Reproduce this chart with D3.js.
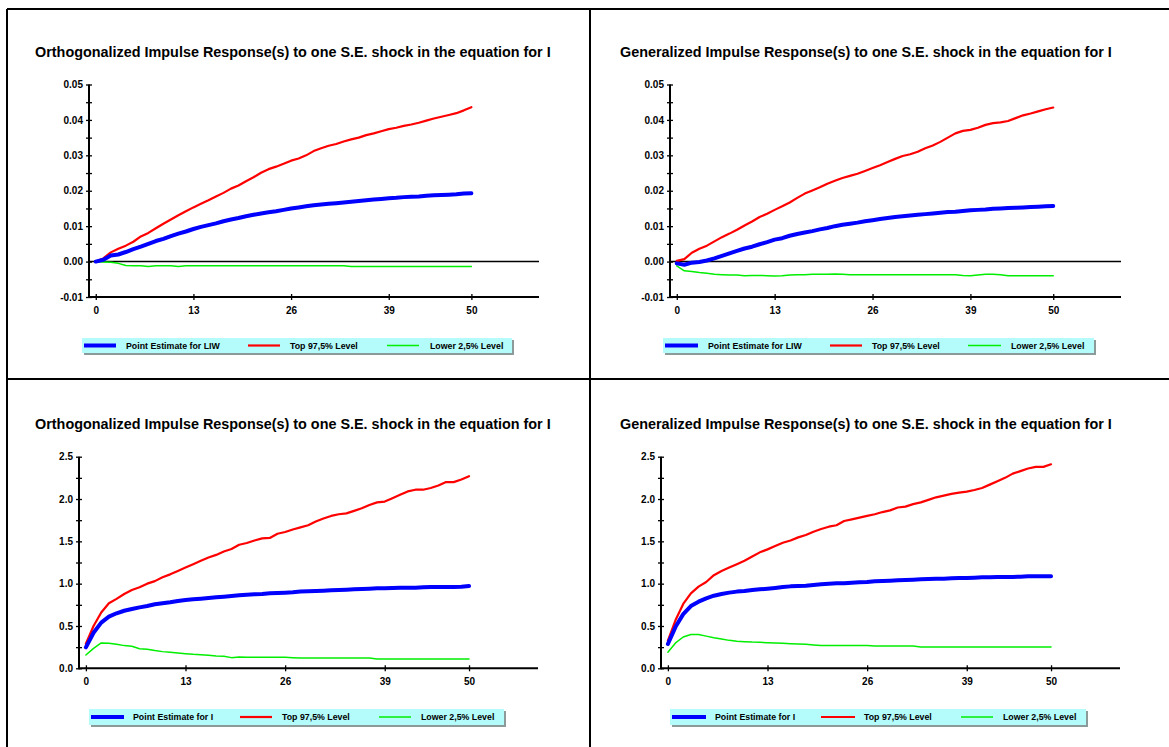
<!DOCTYPE html>
<html>
<head>
<meta charset="utf-8">
<script src="https://cdnjs.cloudflare.com/ajax/libs/d3/7.8.5/d3.min.js"></script>
<style>
  html, body { margin: 0; padding: 0; background: #ffffff; }
  svg { display: block; }
  text { font-family: Arial, "Liberation Sans", sans-serif; font-weight: bold; fill: #000; }
</style>
</head>
<body>
<svg id="chart" width="1169" height="747"></svg>
<script>
// ---------------- DATA ----------------
const horizons = d3.range(0, 51);
const xTickValues = [0, 13, 26, 39, 50];

const titleOrth = "Orthogonalized Impulse Response(s) to one S.E. shock in the equation for I";
const titleGen = "Generalized Impulse Response(s) to one S.E. shock in the equation for I";

const legendLabelsLIW = ["Point Estimate for LIW", "Top 97,5% Level", "Lower 2,5% Level"];
const legendLabelsI = ["Point Estimate for I", "Top 97,5% Level", "Lower 2,5% Level"];

const yTicksSmall = [-0.01, 0.00, 0.01, 0.02, 0.03, 0.04, 0.05];
const yTicksLarge = [0.0, 0.5, 1.0, 1.5, 2.0, 2.5];

// Orthogonalized, response of LIW
const orthLIWPoint = [0, 0.0005, 0.0017, 0.0020, 0.0027, 0.0035, 0.0042, 0.0050, 0.0058, 0.0064,
  0.0072, 0.0079, 0.0085, 0.0092, 0.0098, 0.0103, 0.0108, 0.0114, 0.0119, 0.0123,
  0.0128, 0.0132, 0.0136, 0.0139, 0.0142, 0.0146, 0.0150, 0.0153, 0.0156, 0.0159,
  0.0161, 0.0163, 0.0165, 0.0167, 0.0169, 0.0171, 0.0173, 0.0175, 0.0177, 0.0179,
  0.0180, 0.0182, 0.0183, 0.0184, 0.0186, 0.0187, 0.0188, 0.0189, 0.0190, 0.0192, 0.0193];
const orthLIWTop = [0, 0.0009, 0.0026, 0.0036, 0.0045, 0.0056, 0.0071, 0.0081, 0.0094, 0.0107,
  0.0119, 0.0131, 0.0142, 0.0153, 0.0163, 0.0173, 0.0184, 0.0194, 0.0206, 0.0215,
  0.0227, 0.0238, 0.0251, 0.0261, 0.0268, 0.0276, 0.0285, 0.0291, 0.0300, 0.0312,
  0.0320, 0.0327, 0.0332, 0.0339, 0.0345, 0.0350, 0.0357, 0.0362, 0.0368, 0.0374,
  0.0378, 0.0383, 0.0387, 0.0392, 0.0398, 0.0404, 0.0409, 0.0414, 0.0419, 0.0427, 0.0436];
const orthLIWLow = [0, -0.0001, -0.0002, -0.0005, -0.0011, -0.0012, -0.0012, -0.0014, -0.0012, -0.0012,
  -0.0012, -0.0014, -0.0012, -0.0012, -0.0012, -0.0012, -0.0012, -0.0012, -0.0012, -0.0012,
  -0.0012, -0.0012, -0.0012, -0.0012, -0.0012, -0.0012, -0.0012, -0.0012, -0.0012, -0.0012,
  -0.0012, -0.0012, -0.0012, -0.0012, -0.0014, -0.0014, -0.0014, -0.0014, -0.0014, -0.0014,
  -0.0014, -0.0014, -0.0014, -0.0014, -0.0014, -0.0014, -0.0014, -0.0014, -0.0014, -0.0014, -0.0014];

// Generalized, response of LIW
const genLIWPoint = [-0.0005, -0.0009, -0.0003, -0.0001, 0.0003, 0.0009, 0.0016, 0.0023, 0.0030, 0.0037,
  0.0042, 0.0049, 0.0055, 0.0062, 0.0066, 0.0073, 0.0078, 0.0082, 0.0086, 0.0091,
  0.0095, 0.0100, 0.0104, 0.0107, 0.0110, 0.0114, 0.0117, 0.0120, 0.0123, 0.0126,
  0.0128, 0.0130, 0.0132, 0.0134, 0.0136, 0.0138, 0.0140, 0.0141, 0.0143, 0.0145,
  0.0146, 0.0147, 0.0149, 0.0150, 0.0151, 0.0152, 0.0153, 0.0154, 0.0155, 0.0156, 0.0157];
const genLIWTop = [0.0002, 0.0007, 0.0025, 0.0036, 0.0045, 0.0057, 0.0069, 0.0079, 0.0090, 0.0102,
  0.0113, 0.0126, 0.0135, 0.0146, 0.0156, 0.0167, 0.0180, 0.0192, 0.0201, 0.0210,
  0.0220, 0.0228, 0.0236, 0.0242, 0.0248, 0.0256, 0.0264, 0.0272, 0.0281, 0.0290,
  0.0298, 0.0303, 0.0310, 0.0320, 0.0328, 0.0338, 0.0350, 0.0362, 0.0369, 0.0372,
  0.0378, 0.0386, 0.0391, 0.0393, 0.0397, 0.0405, 0.0413, 0.0418, 0.0424, 0.0430, 0.0435];
const genLIWLow = [-0.0012, -0.0026, -0.0028, -0.0031, -0.0033, -0.0036, -0.0037, -0.0038, -0.0038, -0.0040,
  -0.0039, -0.0039, -0.0040, -0.0041, -0.0040, -0.0038, -0.0037, -0.0037, -0.0036, -0.0036,
  -0.0036, -0.0035, -0.0036, -0.0037, -0.0037, -0.0037, -0.0037, -0.0037, -0.0037, -0.0037,
  -0.0037, -0.0037, -0.0037, -0.0037, -0.0037, -0.0037, -0.0037, -0.0037, -0.0039, -0.0040,
  -0.0038, -0.0036, -0.0036, -0.0037, -0.0040, -0.0040, -0.0040, -0.0040, -0.0040, -0.0040, -0.0040];

// Orthogonalized, response of I
const orthIPoint = [0.248, 0.42, 0.54, 0.61, 0.65, 0.68, 0.70, 0.72, 0.736, 0.756,
  0.768, 0.78, 0.795, 0.807, 0.815, 0.823, 0.83, 0.839, 0.846, 0.854,
  0.862, 0.87, 0.874, 0.878, 0.886, 0.89, 0.894, 0.898, 0.906, 0.91,
  0.913, 0.917, 0.921, 0.925, 0.929, 0.933, 0.937, 0.94, 0.945, 0.945,
  0.949, 0.953, 0.953, 0.953, 0.957, 0.96, 0.96, 0.96, 0.96, 0.964, 0.972];
const orthITop = [0.29, 0.50, 0.66, 0.768, 0.82, 0.878, 0.925, 0.957, 1.0, 1.03,
  1.075, 1.11, 1.15, 1.19, 1.23, 1.27, 1.31, 1.34, 1.38, 1.41,
  1.46, 1.48, 1.51, 1.535, 1.54, 1.59, 1.61, 1.64, 1.665, 1.69,
  1.735, 1.77, 1.80, 1.82, 1.83, 1.86, 1.89, 1.93, 1.96, 1.97,
  2.01, 2.05, 2.09, 2.11, 2.11, 2.13, 2.16, 2.20, 2.20, 2.23, 2.27];
const orthILow = [0.157, 0.236, 0.30, 0.295, 0.283, 0.268, 0.26, 0.232, 0.224, 0.209,
  0.197, 0.189, 0.181, 0.173, 0.165, 0.161, 0.154, 0.146, 0.142, 0.126,
  0.134, 0.13, 0.13, 0.13, 0.13, 0.13, 0.13, 0.126, 0.122, 0.122,
  0.122, 0.122, 0.122, 0.122, 0.122, 0.122, 0.122, 0.122, 0.11, 0.11,
  0.11, 0.11, 0.11, 0.11, 0.11, 0.11, 0.11, 0.11, 0.11, 0.11, 0.11];

// Generalized, response of I
const genIPoint = [0.287, 0.49, 0.64, 0.736, 0.787, 0.827, 0.858, 0.878, 0.894, 0.906,
  0.913, 0.925, 0.933, 0.94, 0.949, 0.96, 0.968, 0.972, 0.976, 0.984,
  0.992, 1.0, 1.004, 1.004, 1.012, 1.016, 1.02, 1.028, 1.031, 1.035,
  1.04, 1.043, 1.047, 1.051, 1.055, 1.059, 1.059, 1.063, 1.067, 1.067,
  1.071, 1.075, 1.075, 1.079, 1.079, 1.079, 1.083, 1.087, 1.087, 1.087, 1.087];
const genITop = [0.327, 0.57, 0.76, 0.886, 0.965, 1.02, 1.10, 1.15, 1.19, 1.23,
  1.27, 1.32, 1.37, 1.405, 1.445, 1.484, 1.51, 1.547, 1.575, 1.614,
  1.646, 1.673, 1.69, 1.74, 1.76, 1.78, 1.80, 1.82, 1.846, 1.866,
  1.90, 1.91, 1.94, 1.96, 1.99, 2.02, 2.04, 2.06, 2.075, 2.087,
  2.106, 2.13, 2.17, 2.21, 2.25, 2.30, 2.33, 2.36, 2.38, 2.38, 2.41];
const genILow = [0.19, 0.30, 0.37, 0.40, 0.40, 0.38, 0.36, 0.347, 0.33, 0.32,
  0.315, 0.31, 0.307, 0.303, 0.299, 0.295, 0.291, 0.287, 0.283, 0.276,
  0.27, 0.27, 0.27, 0.27, 0.27, 0.27, 0.27, 0.264, 0.264, 0.264,
  0.264, 0.264, 0.264, 0.252, 0.252, 0.252, 0.252, 0.252, 0.252, 0.252,
  0.252, 0.252, 0.252, 0.252, 0.252, 0.252, 0.252, 0.252, 0.252, 0.252, 0.252];

// ---------------- LAYOUT / STYLE ----------------
const seriesColors = ["#0000ff", "#ff0000", "#00ee00"];
const seriesWidths = [4, 2.2, 1.5];
const FONT = "Arial, 'Liberation Sans', sans-serif";

const panels = [
  { title: titleOrth, titleX: 35, titleY: 57, series: [orthLIWPoint, orthLIWTop, orthLIWLow],
    labels: legendLabelsLIW, yDomain: [-0.01, 0.05], yTicks: yTicksSmall, yMinorStep: 0.005, yFmt: ".2f",
    xRange: [89, 539], yRange: [297, 84.5],
    legend: { x: 82, y: 338, w: 430, h: 15, off: [[2, 34, 44], [166, 198, 208], [305, 337, 348]] } },
  { title: titleGen, titleX: 620, titleY: 57, series: [genLIWPoint, genLIWTop, genLIWLow],
    labels: legendLabelsLIW, yDomain: [-0.01, 0.05], yTicks: yTicksSmall, yMinorStep: 0.005, yFmt: ".2f",
    xRange: [670, 1121], yRange: [297, 84.5],
    legend: { x: 663, y: 338, w: 431, h: 15, off: [[2, 35, 45], [167, 199, 209], [305, 338, 348]] } },
  { title: titleOrth, titleX: 35, titleY: 429, series: [orthIPoint, orthITop, orthILow],
    labels: legendLabelsI, yDomain: [0, 2.5], yTicks: yTicksLarge, yMinorStep: 0.25, yFmt: ".1f",
    xRange: [79, 538], yRange: [668.3, 456.7],
    legend: { x: 89, y: 709, w: 415, h: 16, off: [[2, 35, 44], [151, 183, 193], [290, 322, 332]] } },
  { title: titleGen, titleX: 620, titleY: 429, series: [genIPoint, genITop, genILow],
    labels: legendLabelsI, yDomain: [0, 2.5], yTicks: yTicksLarge, yMinorStep: 0.25, yFmt: ".1f",
    xRange: [661, 1120], yRange: [668.3, 456.7],
    legend: { x: 670, y: 709, w: 416, h: 16, off: [[2, 36, 45], [151, 185, 194], [291, 323, 333]] } }
];

const svg = d3.select("#chart");

// frame lines
const frame = svg.append("g").attr("stroke", "#000").attr("stroke-width", 2);
frame.append("line").attr("x1", 7).attr("y1", 9).attr("x2", 1169).attr("y2", 9);
frame.append("line").attr("x1", 7).attr("y1", 9).attr("x2", 7).attr("y2", 747);
frame.append("line").attr("x1", 590).attr("y1", 9).attr("x2", 590).attr("y2", 747);
frame.append("line").attr("x1", 7).attr("y1", 379).attr("x2", 1169).attr("y2", 379);

panels.forEach(p => {
  const g = svg.append("g");
  const x = d3.scaleLinear().domain([-0.9, 59]).range(p.xRange);
  const y = d3.scaleLinear().domain(p.yDomain).range(p.yRange);
  const fmt = d3.format(p.yFmt);

  g.append("text").attr("x", p.titleX).attr("y", p.titleY)
    .style("font-size", "14.4px").text(p.title);

  // y axis with crossing ticks
  const yMinor = d3.range(p.yDomain[0], p.yDomain[1] + p.yMinorStep / 2, p.yMinorStep);
  const yAxis = d3.axisLeft(y).tickValues(yMinor).tickSize(3)
    .tickFormat(d => p.yTicks.some(t => Math.abs(t - d) < 1e-9)
      ? fmt(Math.abs(d) < 1e-12 ? 0 : d).replace("\u2212", "-") : "");
  const ya = g.append("g").attr("transform", `translate(${p.xRange[0]},0)`).call(yAxis);
  ya.select(".domain").remove();
  ya.selectAll(".tick line").attr("x1", -3).attr("x2", 3).attr("stroke", "#000").attr("stroke-width", 1.3);
  ya.selectAll(".tick text").attr("x", -6).style("font-size", "10px").style("font-family", FONT).style("font-weight", "bold");
  g.append("line").attr("x1", p.xRange[0]).attr("x2", p.xRange[0])
    .attr("y1", p.yRange[0] + 1).attr("y2", p.yRange[1]).attr("stroke", "#000").attr("stroke-width", 2);

  // x axis
  const xAxis = d3.axisBottom(x).tickValues(xTickValues).tickSize(3).tickFormat(d3.format("d"));
  const xa = g.append("g").attr("transform", `translate(0,${p.yRange[0]})`).call(xAxis);
  xa.select(".domain").remove();
  xa.selectAll(".tick line").attr("y1", -3).attr("y2", 3).attr("stroke", "#000").attr("stroke-width", 1.3);
  xa.selectAll(".tick text").attr("y", 10).style("font-size", "10px").style("font-family", FONT).style("font-weight", "bold");
  g.append("line").attr("x1", p.xRange[0]).attr("x2", p.xRange[1])
    .attr("y1", p.yRange[0]).attr("y2", p.yRange[0]).attr("stroke", "#000").attr("stroke-width", 2);

  // zero line for small-scale panels
  if (p.yDomain[0] < 0) {
    g.append("line").attr("x1", p.xRange[0]).attr("x2", p.xRange[1])
      .attr("y1", y(0)).attr("y2", y(0)).attr("stroke", "#000").attr("stroke-width", 1.5);
  }

  const line = d3.line().x((d, i) => x(horizons[i])).y(d => y(d));
  [2, 1, 0].forEach(k => {
    g.append("path").datum(p.series[k]).attr("d", line)
      .attr("fill", "none").attr("stroke", seriesColors[k]).attr("stroke-width", seriesWidths[k])
      .attr("stroke-linejoin", "round").attr("stroke-linecap", "round");
  });

  // legend
  const L = p.legend;
  g.append("rect").attr("x", L.x + 2).attr("y", L.y + 2).attr("width", L.w).attr("height", L.h).attr("fill", "#8c9a9a");
  g.append("rect").attr("x", L.x).attr("y", L.y).attr("width", L.w).attr("height", L.h).attr("fill", "#b4fcfc");
  p.labels.forEach((lab, k) => {
    const o = L.off[k];
    g.append("line").attr("x1", L.x + o[0]).attr("x2", L.x + o[1])
      .attr("y1", L.y + L.h / 2).attr("y2", L.y + L.h / 2)
      .attr("stroke", seriesColors[k]).attr("stroke-width", seriesWidths[k]);
    g.append("text").attr("x", L.x + o[2]).attr("y", L.y + L.h / 2 + 3.2)
      .style("font-size", "8.8px").text(lab);
  });
});
</script>
</body>
</html>
